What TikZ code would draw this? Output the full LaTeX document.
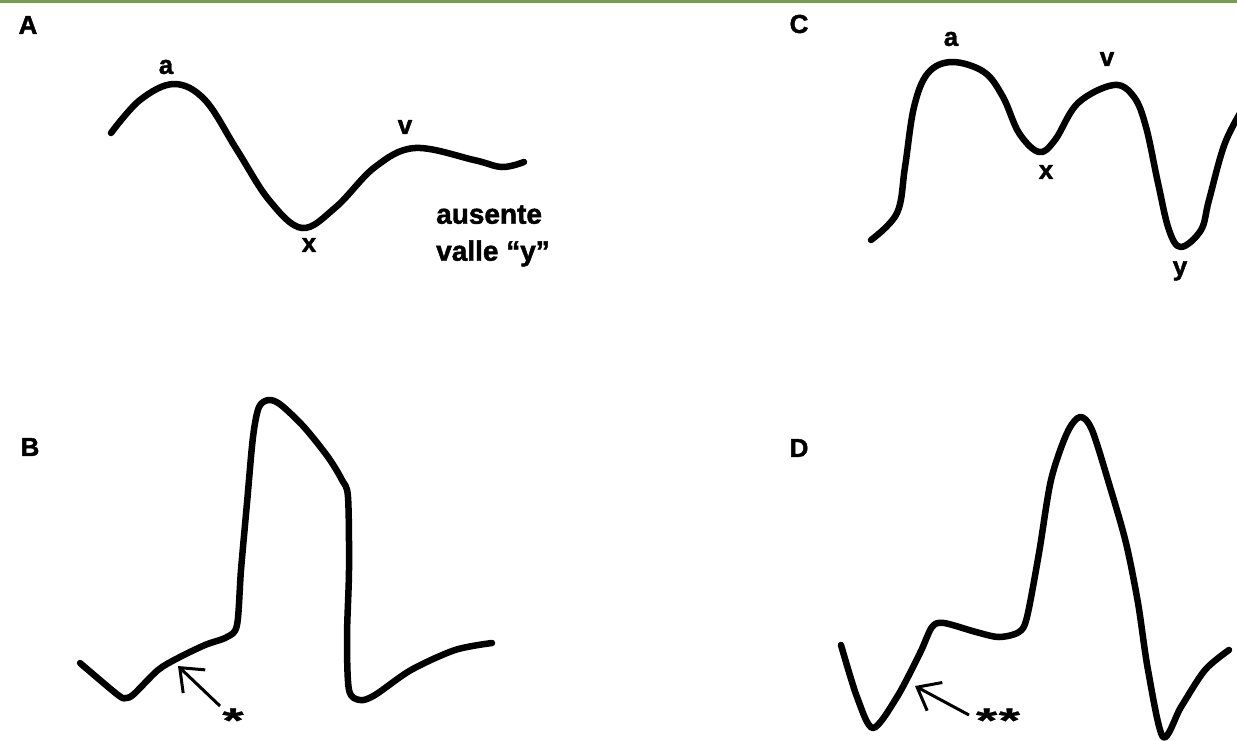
\documentclass[tikz,border=0pt]{standalone}
\usepackage{fontspec}
\setmainfont{Liberation Sans}
\newfontfamily\heavyfont{Liberation Sans Bold}[FakeBold=1.6]
\newfontfamily\starfont{Liberation Sans Bold}[FakeBold=0.8]
\usetikzlibrary{arrows.meta}
\definecolor{topgreen}{RGB}{122,154,90}
\newcommand{\starmark}[1]{\scalebox{1.6}[1]{#1}}
\begin{document}
\begin{tikzpicture}[x=1pt,y=-1pt,
  wave/.style={line width=6.5pt, line cap=round, line join=round},
  ptr/.style={line width=3pt, -{Straight Barb[length=20pt,width=32pt,line width=3pt]}},
  lbl/.style={font=\heavyfont\fontsize{26}{28}\selectfont, inner sep=0pt},
  starlbl/.style={font=\starfont\fontsize{34}{34}\selectfont, inner sep=0pt, anchor=base},
  big/.style={font=\heavyfont\fontsize{28}{37}\selectfont, inner sep=0pt, align=left}]
\useasboundingbox (0,0) rectangle (1237,740);
\fill[white] (0,0) rectangle (1237,740);
\begin{scope}
\clip (0,0) rectangle (1237,740);
\fill[topgreen] (0,0) rectangle (1237,3);

% Panel A
\node[lbl] (labA) at (28,25) {A};
\draw[wave] plot[smooth, tension=0.6] coordinates {
  (111,133) (140,100) (174,84) (205,100) (237,150) (269,200) (302,228)
  (336,207) (375,167) (415,148) (474,160) (502,167) (524,162)};
\node[lbl] (Aa) at (166,67) {a};
\node[lbl] (Ax) at (309,245) {x};
\node[lbl] (Av) at (405,127) {v};
\node[big, anchor=west] (Ay) at (436,236) {ausente\\valle “y”};

% Panel C
\node[lbl] (labC) at (799,24) {C};
\draw[wave] plot[smooth, tension=0.6] coordinates {
  (871,240) (897,213) (905,167) (914,107) (928,73) (952,62) (984,72)
  (1003,97) (1019,133) (1039,152) (1055,140) (1078,103) (1114,85)
  (1134,97) (1146,127) (1158,183) (1169,230) (1181,247) (1201,230)
  (1209,200) (1225,143) (1245,105)};
\node[lbl] (Ca) at (951,39) {a};
\node[lbl] (Cx) at (1046,172) {x};
\node[lbl] (Cv) at (1107,59) {v};
\node[lbl] (Cy) at (1180,271) {y};

% Panel B
\node[lbl] (labB) at (30,447) {B};
\draw[wave] plot[smooth, tension=0.5] coordinates {
  (80,663) (118,695) (126,698) (134,694) (158,670) (178,658) (205,645)
  (227,637) (237,625) (241,570) (247,503) (253,437) (259,407) (269,400)
  (281,405) (304,427) (328,457) (342,480) (348,497) (349,570) (347,637)
  (349,690) (360,700) (375,695) (411,670) (455,650) (492,643)};
\coordinate (Bt) at (178,666);
\coordinate (Bf) at (220,706);
\draw[ptr] (Bf) -- (Bt);
\node[starlbl] (Bs) at (233,732) {\starmark{*}};

% Panel D
\node[lbl] (labD) at (799,448) {D};
\draw[wave] plot[smooth, tension=0.5] coordinates {
  (841,645) (857,697) (873,728) (897,697) (920,653) (932,627) (944,623)
  (976,632) (999,637) (1019,632) (1027,617) (1039,553) (1051,480)
  (1067,433) (1080,417) (1092,430) (1110,487) (1126,543) (1138,603)
  (1148,670) (1163,737) (1181,707) (1205,670) (1229,650)};
\coordinate (Dt) at (915,686);
\coordinate (Df) at (969,715);
\draw[ptr] (Df) -- (Dt);
\node[starlbl] (Ds) at (998,732) {\starmark{*\kern1pt*}};
\end{scope}
\end{tikzpicture}
\end{document}
